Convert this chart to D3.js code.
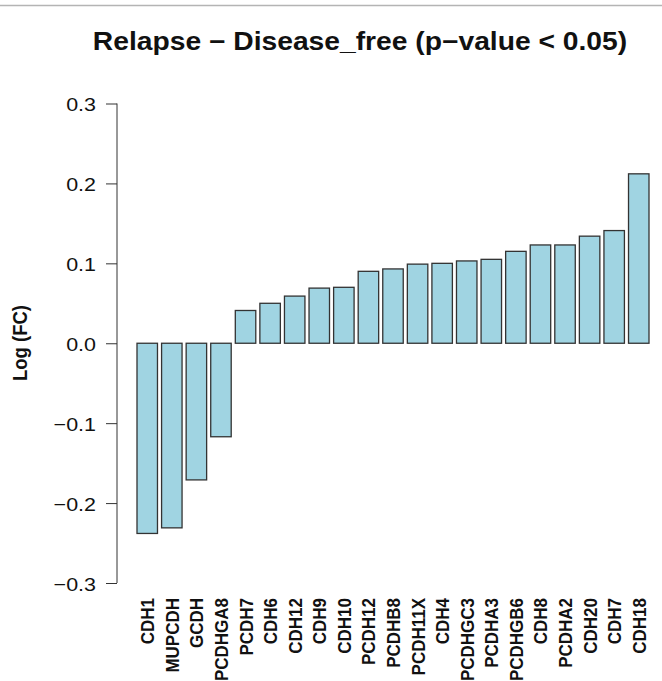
<!DOCTYPE html>
<html>
<head>
    <meta charset="UTF-8">
    <title>Relapse - Disease_free</title>
    <script src="https://cdn.jsdelivr.net/npm/d3@7"></script>
    <style>
        body { margin: 0; background: #fff; }
        text { font-family: "Liberation Sans", Arial, Helvetica, sans-serif; fill: #111; }
    </style>
</head>
<body>
<svg id="chart" width="662" height="681"></svg>
<script>
    // genes, sorted by log fold change
    var genes = ["CDH1", "MUPCDH", "GCDH", "PCDHGA8", "PCDH7", "CDH6", "CDH12", "CDH9", "CDH10",
        "PCDH12", "PCDHB8", "PCDH11X", "CDH4", "PCDHGC3", "PCDHA3", "PCDHGB6", "CDH8",
        "PCDHA2", "CDH20", "CDH7", "CDH18"];
    var logFC = [-0.238, -0.231, -0.171, -0.117, 0.041, 0.050, 0.059, 0.069, 0.070,
        0.090, 0.093, 0.099, 0.100, 0.103, 0.105, 0.115, 0.123,
        0.123, 0.134, 0.141, 0.212];
    var yTicks = [-0.3, -0.2, -0.1, 0.0, 0.1, 0.2, 0.3];

    var SX = 1.13; // the picture is slightly wider than tall
    var svg = d3.select("#chart");

    // light frame line at the top
    svg.append("line")
        .attr("x1", 0).attr("x2", 662)
        .attr("y1", 5.5).attr("y2", 5.5)
        .attr("stroke", "#b4b4b4")
        .attr("stroke-width", 1.6);

    var x = d3.scaleBand()
        .domain(genes)
        .range([137, 649])
        .paddingInner(0.1667)
        .paddingOuter(0);

    var y = d3.scaleLinear()
        .domain([-0.3, 0.3])
        .range([583, 103.5]);

    // bars
    svg.append("g").selectAll("rect")
        .data(genes)
        .enter().append("rect")
        .attr("x", function (d) { return x(d); })
        .attr("width", x.bandwidth())
        .attr("y", function (d, i) { return Math.min(y(logFC[i]), y(0)); })
        .attr("height", function (d, i) { return Math.abs(y(logFC[i]) - y(0)); })
        .attr("fill", "#a0d4e2")
        .attr("stroke", "#333")
        .attr("stroke-width", 1.3);

    // y axis
    var yAxis = d3.axisLeft(y)
        .tickValues(yTicks)
        .tickSize(11)
        .tickPadding(10)
        .tickFormat(function (d) { return d3.format(".1f")(d).replace("-", "\u2212"); });

    var gy = svg.append("g")
        .attr("transform", "translate(117,0)")
        .call(yAxis);
    gy.select(".domain")
        .attr("stroke", "#333")
        .attr("d", "M0," + y(-0.3) + "V" + y(0.3));
    gy.selectAll(".tick line").attr("stroke", "#333");
    gy.selectAll(".tick text")
        .attr("font-size", 19)
        .attr("fill", "#222")
        .attr("x", null)
        .attr("dy", null)
        .attr("transform", function () {
            return "translate(-21,7) scale(" + SX + ",1)";
        });

    // x labels, vertical
    svg.append("g").selectAll("text")
        .data(genes)
        .enter().append("text")
        .attr("transform", function (d) {
            var cx = x(d) + x.bandwidth() / 2 + 7;
            return "translate(" + cx + ",598) scale(" + SX + ",1) rotate(-90)";
        })
        .attr("text-anchor", "end")
        .attr("font-size", 17)
        .attr("font-weight", "bold")
        .text(function (d) { return d; });

    // title
    svg.append("text")
        .attr("transform", "translate(360,50) scale(" + SX + ",1)")
        .attr("text-anchor", "middle")
        .attr("font-size", 25)
        .attr("font-weight", "bold")
        .text("Relapse \u2212 Disease_free (p\u2212value < 0.05)");

    // y label
    svg.append("text")
        .attr("transform", "translate(27,343) scale(" + SX + ",1) rotate(-90)")
        .attr("text-anchor", "middle")
        .attr("font-size", 18.5)
        .attr("font-weight", "bold")
        .text("Log (FC)");
</script>
</body>
</html>
